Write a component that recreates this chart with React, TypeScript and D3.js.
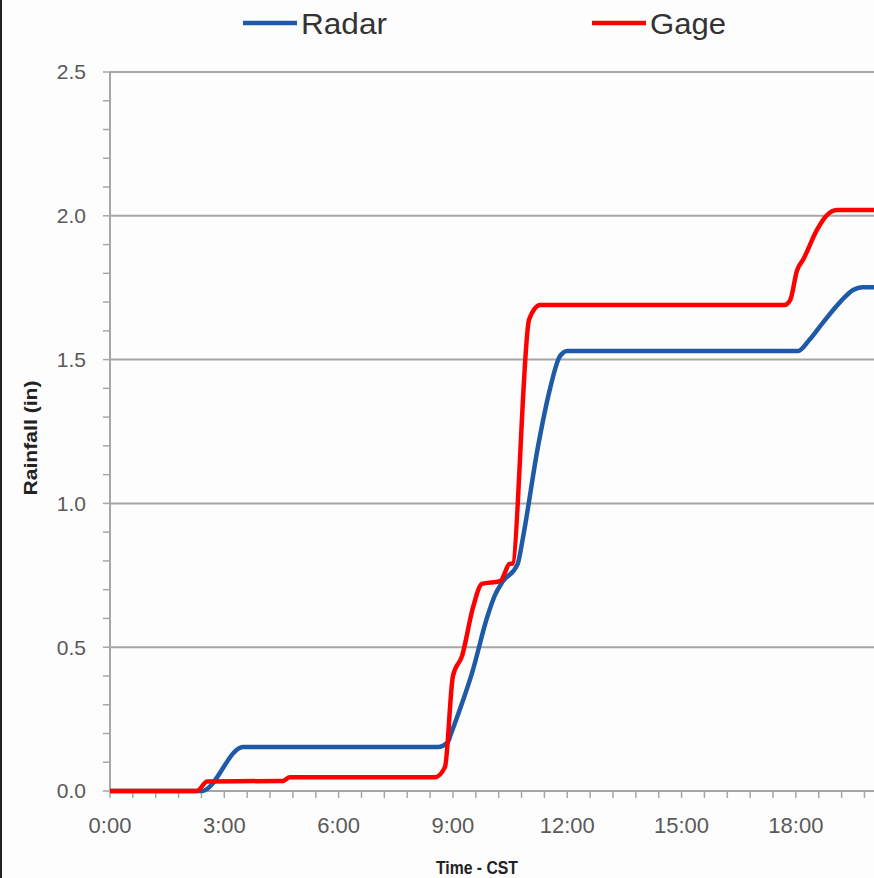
import React from "react";
import * as d3 from "d3";

// Cumulative rainfall, hours after midnight (CST) vs inches
const radarHours = [0, 2.41, 3.49, 8.6, 8.87, 8.92, 9.24, 9.5, 9.9, 10.1, 10.3, 10.7, 10.84, 11.23, 11.55, 11.8, 12.0, 18.06, 18.35, 18.7, 19.16, 19.5, 19.74, 20.3];
const radarInches = [0, 0, 0.153, 0.153, 0.17, 0.188, 0.306, 0.41, 0.605, 0.68, 0.727, 0.79, 0.883, 1.196, 1.4, 1.51, 1.53, 1.53, 1.568, 1.627, 1.7, 1.742, 1.752, 1.752];

const gageHours = [0, 2.28, 2.55, 4.54, 4.72, 8.53, 8.79, 9.0, 9.24, 9.53, 9.76, 10.24, 10.5, 10.55, 11.0, 11.29, 17.7, 17.85, 18.03, 18.2, 18.55, 18.8, 19.08, 20.3];
const gageInches = [0, 0, 0.033, 0.035, 0.048, 0.048, 0.083, 0.4, 0.47, 0.64, 0.72, 0.73, 0.79, 0.79, 1.64, 1.69, 1.69, 1.707, 1.81, 1.85, 1.95, 2.0, 2.02, 2.02];

const xLabelHours = [0, 3, 6, 9, 12, 15, 18];
const xLabels = ["0:00", "3:00", "6:00", "9:00", "12:00", "15:00", "18:00"];
const yGridValues = [0, 0.5, 1.0, 1.5, 2.0, 2.5];

const W = 874;
const H = 878;

export default function App() {
  const x = d3.scaleLinear().domain([0, 20.05]).range([110, 874]);
  const y = d3.scaleLinear().domain([0, 2.5]).range([791, 72]);

  const line = d3
    .line<[number, number]>()
    .x((d) => x(d[0]))
    .y((d) => y(d[1]))
    .curveMonotoneX;

  const mk = (hs: number[], vs: number[]) =>
    d3
      .line<number>()
      .x((_, i) => x(hs[i]))
      .y((v) => y(v))
      .curve(d3.curveMonotoneX)(vs) || "";

  const radarPath = mk(radarHours, radarInches);
  const gagePath = mk(gageHours, gageInches);

  const minorX = d3.range(0, 20.05, 0.6);
  const minorY = d3.range(0, 2.5001, 0.1);

  const font = "'Liberation Sans', Arial, sans-serif";
  const grey = "#595959";

  return (
    <svg
      width={W}
      height={H}
      style={{ position: "absolute", left: 0, top: 0, background: "#fdfdfd" }}
    >
      <rect x={0} y={0} width={W} height={H} fill="#fdfdfd" />
      <line x1={1} x2={1} y1={0} y2={H} stroke="#222" strokeWidth={2} />

      {/* horizontal gridlines */}
      {yGridValues.map((v) => (
        <line key={v} x1={110} x2={W} y1={y(v)} y2={y(v)} stroke="#a6a6a6" strokeWidth={2} />
      ))}
      {/* y axis */}
      <line x1={110} x2={110} y1={y(2.5)} y2={y(0)} stroke="#a6a6a6" strokeWidth={2} />
      {minorY.map((v, i) => (
        <line key={i} x1={103} x2={110} y1={y(v)} y2={y(v)} stroke="#a6a6a6" strokeWidth={1.5} />
      ))}
      {/* x axis ticks */}
      {minorX.map((h, i) => (
        <line key={i} x1={x(h)} x2={x(h)} y1={791} y2={798} stroke="#a6a6a6" strokeWidth={1.5} />
      ))}

      {yGridValues.map((v) => (
        <text
          key={v}
          x={86}
          y={y(v)}
          dy="0.35em"
          textAnchor="end"
          fontFamily={font}
          fontSize={21}
          fill={grey}
        >
          {v.toFixed(1)}
        </text>
      ))}
      {xLabelHours.map((h, i) => (
        <text
          key={h}
          x={x(h)}
          y={833}
          textAnchor="middle"
          fontFamily={font}
          fontSize={22}
          fill={grey}
        >
          {xLabels[i]}
        </text>
      ))}

      <text
        x={477}
        y={874}
        textAnchor="middle"
        fontFamily={font}
        fontWeight="bold"
        fontSize={19}
        fill="#222"
        textLength={82}
        lengthAdjust="spacingAndGlyphs"
      >
        Time - CST
      </text>
      <text
        transform="translate(37,438) rotate(-90)"
        textAnchor="middle"
        fontFamily={font}
        fontWeight="bold"
        fontSize={18}
        fill="#222"
        textLength={115}
        lengthAdjust="spacingAndGlyphs"
      >
        Rainfall (in)
      </text>

      {/* series */}
      <path d={radarPath} fill="none" stroke="#1f5aa6" strokeWidth={4.5} strokeLinejoin="round" />
      <path d={gagePath} fill="none" stroke="#ff0000" strokeWidth={4.5} strokeLinejoin="round" />

      {/* legend */}
      <line x1={243} x2={297} y1={23} y2={23} stroke="#1f5aa6" strokeWidth={4.5} />
      <text x={301} y={34} fontFamily={font} fontSize={30} fill="#333" textLength={86} lengthAdjust="spacingAndGlyphs">
        Radar
      </text>
      <line x1={592} x2={646} y1={23} y2={23} stroke="#ff0000" strokeWidth={4.5} />
      <text x={650} y={34} fontFamily={font} fontSize={30} fill="#333" textLength={76} lengthAdjust="spacingAndGlyphs">
        Gage
      </text>
    </svg>
  );
}
